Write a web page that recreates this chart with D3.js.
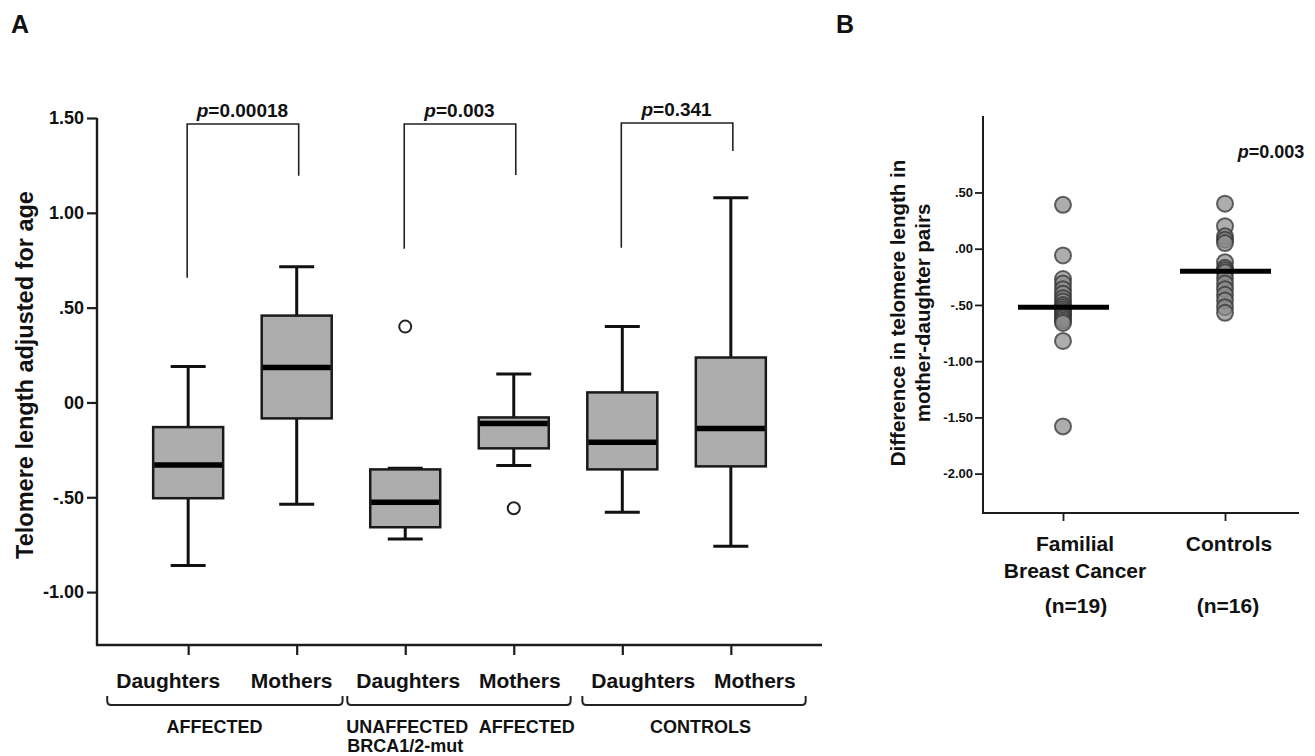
<!DOCTYPE html>
<html>
<head>
<meta charset="utf-8">
<script src="https://cdn.jsdelivr.net/npm/d3@7"></script>
<style>
  body { margin: 0; background: #fff; }
  svg text { font-family: "Liberation Sans", Arial, Helvetica, sans-serif; font-weight: bold; fill: #111; }
</style>
</head>
<body>
<div id="container"></div>
<script>
// ---- panel A: box plots, telomere length adjusted for age ----
var groupIds    = ["aff_d", "aff_m", "brca_d", "brca_m", "ctl_d", "ctl_m"];
var groupLabels = ["Daughters", "Mothers", "Daughters", "Mothers", "Daughters", "Mothers"];
var whiskerLow  = [-0.86, -0.537, -0.72, -0.332, -0.579, -0.758];
var quart1      = [-0.505, -0.084, -0.658, -0.242, -0.353, -0.337];
var medians     = [-0.33, 0.184, -0.526, -0.111, -0.21, -0.137];
var quart3      = [-0.13, 0.458, -0.353, -0.079, 0.053, 0.237];
var whiskerHigh = [0.19, 0.716, -0.347, 0.15, 0.40, 1.079];
var outlierGroup = ["brca_d", "brca_m"];
var outlierValue = [0.40, -0.558];

var yTicksA      = [1.5, 1, 0.5, 0, -0.5, -1];
var yTickLabelsA = ["1.50", "1.00", ".50", "00", "-.50", "-1.00"];

// brackets with p values
var bracketFrom     = ["aff_d", "brca_d", "ctl_d"];
var bracketTo       = ["aff_m", "brca_m", "ctl_m"];
var bracketP        = ["0.00018", "0.003", "0.341"];
var bracketTop      = [1.468, 1.468, 1.474];
var bracketLeftEnd  = [0.658, 0.81, 0.816];
var bracketRightEnd = [1.195, 1.2, 1.326];

var groupNames = [["AFFECTED"], ["UNAFFECTED", "AFFECTED", "BRCA1/2-mut"], ["CONTROLS"]];

// ---- panel B: mother-daughter differences ----
var pairCats     = ["Familial Breast Cancer", "Controls"];
var pairCatLines = [["Familial", "Breast Cancer"], ["Controls"]];
var pairN        = ["(n=19)", "(n=16)"];
var familialDiff = [0.39, -0.06, -0.27, -0.31, -0.36, -0.40, -0.44, -0.47, -0.50, -0.52,
                    -0.54, -0.56, -0.58, -0.60, -0.62, -0.64, -0.66, -0.82, -1.58];
var controlDiff  = [0.40, 0.20, 0.11, 0.08, 0.05, -0.12, -0.17, -0.19, -0.21, -0.26,
                    -0.31, -0.36, -0.41, -0.46, -0.52, -0.57];
var pValueB      = "0.003";
var yTicksB      = [0.5, 0, -0.5, -1, -1.5, -2];
var yTickLabelsB = [".50", ".00", "-.50", "-1.00", "-1.50", "-2.00"];


var W = 1315, H = 756;
var ink = "#1c1c1c";

var svg = d3.select("#container").append("svg")
    .attr("width", W)
    .attr("height", H);
svg.append("rect").attr("width", W).attr("height", H).attr("fill", "#fff");

// panel letters
svg.append("text").attr("x", 11).attr("y", 33).style("font-size", "25px").text("A");
svg.append("text").attr("x", 836).attr("y", 33).style("font-size", "25px").text("B");

// ================= panel A =================
var plotA = {left: 97, right: 822, top: 118, bottom: 645};

var x = d3.scalePoint()
    .domain(groupIds)
    .range([plotA.left, plotA.right])
    .padding(0.84);
var y = d3.scaleLinear()
    .domain([-1.279, 1.5])
    .range([plotA.bottom, plotA.top]);

var yAxisA = svg.append("g")
    .attr("transform", "translate(" + plotA.left + ",0)")
    .call(d3.axisLeft(y)
        .tickValues(yTicksA)
        .tickFormat(function(d, i) { return yTickLabelsA[i]; })
        .tickSize(10)
        .tickPadding(3));
yAxisA.select(".domain").remove();
yAxisA.selectAll("line").attr("stroke", ink).attr("stroke-width", 2.2);
yAxisA.selectAll("text").style("font-size", "18px");

var xAxisA = svg.append("g")
    .attr("transform", "translate(0," + plotA.bottom + ")")
    .call(d3.axisBottom(x).tickSize(10).tickFormat(""));
xAxisA.select(".domain").remove();
xAxisA.selectAll("line").attr("stroke", ink).attr("stroke-width", 2.2);

svg.append("line")
    .attr("x1", plotA.left).attr("x2", plotA.left)
    .attr("y1", y(1.5)).attr("y2", plotA.bottom + 1)
    .attr("stroke", ink).attr("stroke-width", 2.4);
svg.append("line")
    .attr("x1", plotA.left - 1).attr("x2", plotA.right)
    .attr("y1", plotA.bottom).attr("y2", plotA.bottom)
    .attr("stroke", ink).attr("stroke-width", 2.4);

// y label
svg.append("text")
    .attr("transform", "translate(33," + 375 + ") rotate(-90)")
    .style("text-anchor", "middle")
    .style("font-size", "23.5px")
    .text("Telomere length adjusted for age");

// boxes
var boxW = 70, capW = 35;
var boxes = svg.append("g").selectAll("g.box")
    .data(groupIds)
  .enter().append("g")
    .attr("class", "box");

boxes.append("line")
    .attr("x1", function(d) { return x(d); })
    .attr("x2", function(d) { return x(d); })
    .attr("y1", function(d, i) { return y(whiskerLow[i]); })
    .attr("y2", function(d, i) { return y(whiskerHigh[i]); })
    .attr("stroke", "#111").attr("stroke-width", 3);
boxes.append("line")
    .attr("x1", function(d) { return x(d) - capW / 2; })
    .attr("x2", function(d) { return x(d) + capW / 2; })
    .attr("y1", function(d, i) { return y(whiskerLow[i]); })
    .attr("y2", function(d, i) { return y(whiskerLow[i]); })
    .attr("stroke", "#111").attr("stroke-width", 3);
boxes.append("line")
    .attr("x1", function(d) { return x(d) - capW / 2; })
    .attr("x2", function(d) { return x(d) + capW / 2; })
    .attr("y1", function(d, i) { return y(whiskerHigh[i]); })
    .attr("y2", function(d, i) { return y(whiskerHigh[i]); })
    .attr("stroke", "#111").attr("stroke-width", 3);
boxes.append("rect")
    .attr("x", function(d) { return x(d) - boxW / 2; })
    .attr("width", boxW)
    .attr("y", function(d, i) { return y(quart3[i]); })
    .attr("height", function(d, i) { return y(quart1[i]) - y(quart3[i]); })
    .attr("fill", "#adadad")
    .attr("stroke", "#1a1a1a").attr("stroke-width", 2.5);
boxes.append("line")
    .attr("x1", function(d) { return x(d) - boxW / 2 + 1; })
    .attr("x2", function(d) { return x(d) + boxW / 2 - 1; })
    .attr("y1", function(d, i) { return y(medians[i]); })
    .attr("y2", function(d, i) { return y(medians[i]); })
    .attr("stroke", "#000").attr("stroke-width", 5.5);

svg.append("g").selectAll("circle")
    .data(outlierGroup)
  .enter().append("circle")
    .attr("cx", function(d) { return x(d); })
    .attr("cy", function(d, i) { return y(outlierValue[i]); })
    .attr("r", 6)
    .attr("fill", "#fff")
    .attr("stroke", "#222").attr("stroke-width", 2);

// p value brackets
var brackets = svg.append("g").selectAll("g")
    .data(bracketP)
  .enter().append("g");
brackets.append("path")
    .attr("d", function(d, i) {
      var x0 = x(bracketFrom[i]) - 1, x1 = x(bracketTo[i]) + 2;
      return "M" + x0 + "," + y(bracketLeftEnd[i]) +
             "V" + y(bracketTop[i]) +
             "H" + x1 +
             "V" + y(bracketRightEnd[i]);
    })
    .attr("fill", "none")
    .attr("stroke", "#222").attr("stroke-width", 1.6);
var pText = brackets.append("text")
    .attr("x", function(d, i) { return (x(bracketFrom[i]) + x(bracketTo[i])) / 2; })
    .attr("y", function(d, i) { return y(bracketTop[i]) - 7; })
    .style("text-anchor", "middle")
    .style("font-size", "19px");
pText.append("tspan").style("font-style", "italic").text("p");
pText.append("tspan").text(function(d) { return "=" + d; });

// x labels, nudged as in the figure
var labelShift = [-20, -5, 3, 6, 21, 24];
var xLabels = svg.append("g").selectAll("text")
    .data(groupIds)
  .enter().append("text")
    .attr("x", function(d, i) { return x(d) + labelShift[i]; })
    .attr("y", 688)
    .style("text-anchor", "middle")
    .style("font-size", "21px")
    .text(function(d, i) { return groupLabels[i]; });

var boxesBB = xLabels.nodes().map(function(n) { return n.getBBox(); });

function bracePath(x0, x1, yb, h) {
  var r = 4;
  return "M" + x0 + "," + (yb - h) + " L" + x0 + "," + (yb - r) +
         " Q" + x0 + "," + yb + " " + (x0 + r) + "," + yb +
         " L" + (x1 - r) + "," + yb +
         " Q" + x1 + "," + yb + " " + x1 + "," + (yb - r) +
         " L" + x1 + "," + (yb - h);
}

var braceY = 705;
for (var g = 0; g < 3; g++) {
  var a = boxesBB[g * 2], b = boxesBB[g * 2 + 1];
  var bx0 = a.x - 9, bx1 = b.x + b.width + 10;
  svg.append("path")
      .attr("d", bracePath(bx0, bx1, braceY, 9))
      .attr("fill", "none")
      .attr("stroke", "#222").attr("stroke-width", 2);
}

var groupFont = "18px";
svg.append("text")
    .attr("x", (x("aff_d") + x("aff_m")) / 2 - 28).attr("y", 733)
    .style("text-anchor", "middle").style("font-size", groupFont)
    .text(groupNames[0][0]);
svg.append("text")
    .attr("x", x("brca_d") + 2).attr("y", 733)
    .style("text-anchor", "middle").style("font-size", groupFont)
    .text(groupNames[1][0]);
svg.append("text")
    .attr("x", x("brca_m") + 13).attr("y", 733)
    .style("text-anchor", "middle").style("font-size", groupFont)
    .text(groupNames[1][1]);
svg.append("text")
    .attr("x", x("brca_d")).attr("y", 752)
    .style("text-anchor", "middle").style("font-size", groupFont)
    .text(groupNames[1][2]);
svg.append("text")
    .attr("x", (x("ctl_d") + x("ctl_m")) / 2 + 24).attr("y", 733)
    .style("text-anchor", "middle").style("font-size", groupFont)
    .text(groupNames[2][0]);

// ================= panel B =================
var plotB = {left: 983, right: 1299, top: 116, bottom: 513};

var xB = d3.scalePoint()
    .domain(pairCats)
    .range([1063, 1225]);
var yB = d3.scaleLinear()
    .domain([-2.35, 1.18])
    .range([plotB.bottom, plotB.top]);

var yAxisB = svg.append("g")
    .attr("transform", "translate(" + plotB.left + ",0)")
    .call(d3.axisLeft(yB)
        .tickValues(yTicksB)
        .tickFormat(function(d, i) { return yTickLabelsB[i]; })
        .tickSize(8)
        .tickPadding(2));
yAxisB.select(".domain").remove();
yAxisB.selectAll("line").attr("stroke", ink).attr("stroke-width", 1.8);
yAxisB.selectAll("text").style("font-size", "13px");

var xAxisB = svg.append("g")
    .attr("transform", "translate(0," + plotB.bottom + ")")
    .call(d3.axisBottom(xB).tickSize(8).tickFormat(""));
xAxisB.select(".domain").remove();
xAxisB.selectAll("line").attr("stroke", ink).attr("stroke-width", 1.8);

svg.append("line")
    .attr("x1", plotB.left).attr("x2", plotB.left)
    .attr("y1", plotB.top).attr("y2", plotB.bottom + 1)
    .attr("stroke", ink).attr("stroke-width", 2);
svg.append("line")
    .attr("x1", plotB.left - 1).attr("x2", plotB.right)
    .attr("y1", plotB.bottom).attr("y2", plotB.bottom)
    .attr("stroke", ink).attr("stroke-width", 2);

// y label, two lines
var yLabB = svg.append("text")
    .attr("transform", "translate(905,313) rotate(-90)")
    .style("text-anchor", "middle")
    .style("font-size", "20.5px");
yLabB.append("tspan").attr("x", 0).attr("y", 0).text("Difference in telomere length in");
yLabB.append("tspan").attr("x", 0).attr("y", 25).text("mother-daughter pairs");

// points
var series = [familialDiff, controlDiff];
series.forEach(function(vals, k) {
  svg.append("g").selectAll("circle")
      .data(vals)
    .enter().append("circle")
      .attr("cx", xB(pairCats[k]))
      .attr("cy", function(d) { return yB(d); })
      .attr("r", 8)
      .attr("fill", "#8a8a8a")
      .attr("fill-opacity", 0.7)
      .attr("stroke", "#333")
      .attr("stroke-opacity", 0.75)
      .attr("stroke-width", 2);
  svg.append("line")
      .attr("x1", xB(pairCats[k]) - 45)
      .attr("x2", xB(pairCats[k]) + 46)
      .attr("y1", yB(d3.median(vals)))
      .attr("y2", yB(d3.median(vals)))
      .attr("stroke", "#000").attr("stroke-width", 5);
});

// category labels
pairCats.forEach(function(c, k) {
  pairCatLines[k].forEach(function(line, j) {
    svg.append("text")
        .attr("x", xB(c) + 12 - k * 8)
        .attr("y", 551 + j * 27)
        .style("text-anchor", "middle")
        .style("font-size", "21px")
        .text(line);
  });
  svg.append("text")
      .attr("x", xB(c) + 13 - k * 10)
      .attr("y", 613)
      .style("text-anchor", "middle")
      .style("font-size", "21px")
      .text(pairN[k]);
});

var pB = svg.append("text")
    .attr("x", 1271)
    .attr("y", 158)
    .style("text-anchor", "middle")
    .style("font-size", "18px");
pB.append("tspan").style("font-style", "italic").text("p");
pB.append("tspan").text("=" + pValueB);
</script>
</body>
</html>
